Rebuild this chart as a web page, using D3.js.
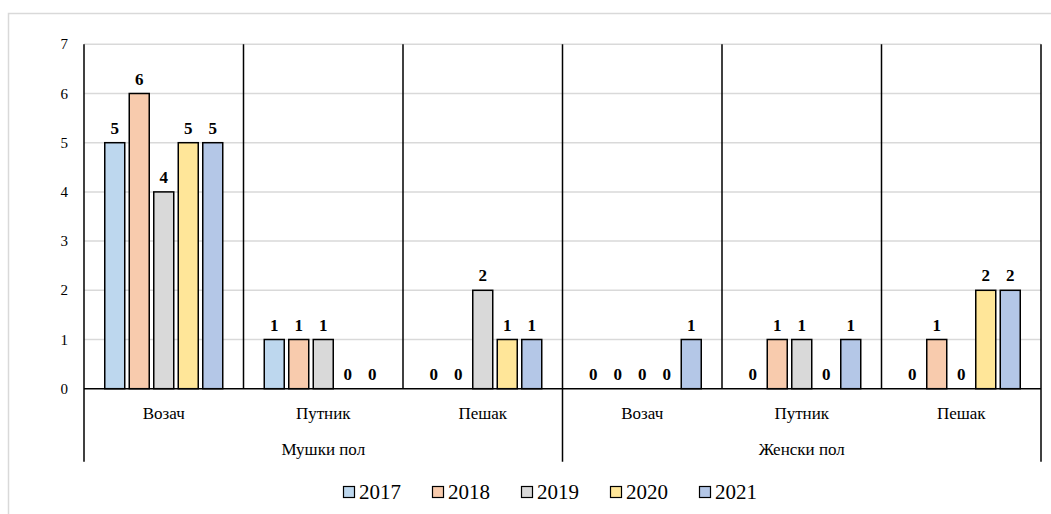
<!DOCTYPE html>
<html>
<head>
<meta charset="utf-8">
<script src="https://cdn.jsdelivr.net/npm/d3@7"></script>
<style>
  html, body { margin: 0; padding: 0; background: #fff; }
  #chart text { font-family: "Liberation Serif", serif !important; }
</style>
</head>
<body>
<svg id="chart" width="1051" height="514"></svg>
<script>
// Road-traffic casualties by role and sex, 2017–2021
const sexes = ["Мушки пол", "Женски пол"];
const roles = ["Возач", "Путник", "Пешак"];
const years = ["2017", "2018", "2019", "2020", "2021"];
// one row per year, six values in order: male driver, passenger, pedestrian; female driver, passenger, pedestrian
const v2017 = [5, 1, 0, 0, 0, 0];
const v2018 = [6, 1, 0, 0, 1, 1];
const v2019 = [4, 1, 2, 0, 1, 0];
const v2020 = [5, 0, 1, 0, 0, 2];
const v2021 = [5, 0, 1, 1, 1, 2];
const yTicks = [0, 1, 2, 3, 4, 5, 6, 7];
const colors = ["#bdd7ee", "#f8cbad", "#d9d9d9", "#ffe699", "#b4c7e7"];

const seriesValues = [v2017, v2018, v2019, v2020, v2021];
const groups = [];
sexes.forEach(s => roles.forEach(r => groups.push({ sex: s, role: r, key: s + "|" + r })));

const FONT = "Liberation Serif";
const svg = d3.select("#chart");
const plotLeft = 84, plotRight = 1041, plotTop = 44.3, plotBottom = 388.7, axisLow = 461.7;

// outer chart frame
svg.append("rect")
  .attr("x", 8.5).attr("y", 13.5).attr("width", 1100).attr("height", 600)
  .attr("fill", "none").attr("stroke", "#d9d9d9").attr("stroke-width", 1.5);

const y = d3.scaleLinear().domain([0, 7]).range([plotBottom, plotTop]);
const x0 = d3.scaleBand().domain(groups.map(g => g.key)).range([plotLeft, plotRight]).padding(0);
const x1 = d3.scaleBand().domain(years).range([0, x0.bandwidth()])
  .paddingInner(0.184).paddingOuter(0.847);
const color = d3.scaleOrdinal().domain(years).range(colors);

// horizontal gridlines
svg.append("g").selectAll("line").data(yTicks.slice(1)).join("line")
  .attr("x1", plotLeft).attr("x2", plotRight)
  .attr("y1", d => y(d)).attr("y2", d => y(d))
  .attr("stroke", "#d9d9d9").attr("stroke-width", 1.5);

// y axis labels
svg.append("g").selectAll("text").data(yTicks).join("text")
  .attr("x", 68).attr("y", d => y(d) + 5)
  .style("font-family", FONT)
  .attr("text-anchor", "end").attr("font-size", 15).attr("fill", "#000")
  .text(d => d);

// bars
const barData = [];
groups.forEach((g, gi) => years.forEach((yr, yi) => {
  barData.push({ key: g.key, year: yr, value: seriesValues[yi][gi] });
}));

svg.append("g").selectAll("rect").data(barData.filter(d => d.value > 0)).join("rect")
  .attr("x", d => x0(d.key) + x1(d.year))
  .attr("y", d => y(d.value))
  .attr("width", x1.bandwidth())
  .attr("height", d => y(0) - y(d.value))
  .attr("fill", d => color(d.year))
  .attr("stroke", "#000").attr("stroke-width", 1.5);

// value labels
svg.append("g").selectAll("text").data(barData).join("text")
  .attr("x", d => x0(d.key) + x1(d.year) + x1.bandwidth() / 2)
  .attr("y", d => y(d.value) - 9)
  .style("font-family", FONT)
  .attr("text-anchor", "middle").attr("font-size", 17).attr("font-weight", "bold")
  .text(d => d.value);

// category separators inside the plot
const seps = svg.append("g").attr("stroke", "#000").attr("stroke-width", 1.5);
groups.forEach((g, i) => {
  const xs = x0(g.key) + x0.bandwidth();
  const isOuter = (i === 2 || i === groups.length - 1);
  seps.append("line")
    .attr("x1", xs).attr("x2", xs)
    .attr("y1", plotTop).attr("y2", isOuter ? axisLow : plotBottom);
});
// left axis line
seps.append("line").attr("x1", plotLeft).attr("x2", plotLeft).attr("y1", plotTop).attr("y2", axisLow);
// baseline
seps.append("line").attr("x1", plotLeft).attr("x2", plotRight).attr("y1", plotBottom).attr("y2", plotBottom);

// role labels
svg.append("g").selectAll("text").data(groups).join("text")
  .attr("x", d => x0(d.key) + x0.bandwidth() / 2)
  .attr("y", 419)
  .style("font-family", FONT)
  .attr("text-anchor", "middle").attr("font-size", 17)
  .text(d => d.role);

// sex labels
const sexWidth = (plotRight - plotLeft) / sexes.length;
svg.append("g").selectAll("text").data(sexes).join("text")
  .attr("x", (d, i) => plotLeft + sexWidth * (i + 0.5))
  .attr("y", 455)
  .style("font-family", FONT)
  .attr("text-anchor", "middle").attr("font-size", 17)
  .text(d => d);

// legend
const legend = svg.append("g").selectAll("g").data(years).join("g")
  .attr("transform", (d, i) => `translate(${343 + i * 89},0)`);
legend.append("rect")
  .attr("x", 0.5).attr("y", 486.5).attr("width", 11).attr("height", 11)
  .attr("fill", d => color(d)).attr("stroke", "#000").attr("stroke-width", 1.2);
legend.append("text")
  .attr("x", 16).attr("y", 499)
  .style("font-family", FONT)
  .attr("font-size", 21)
  .text(d => d);
</script>
</body>
</html>
